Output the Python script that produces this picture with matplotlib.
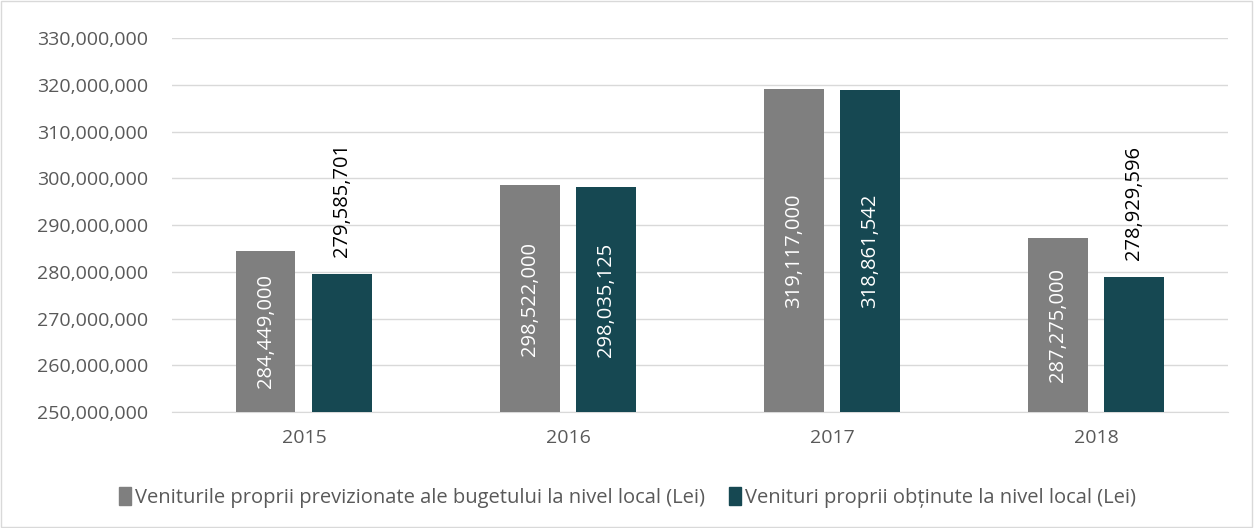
import matplotlib
matplotlib.use("Agg")
import matplotlib.pyplot as plt
import numpy as np
from matplotlib.ticker import FuncFormatter
from matplotlib.patches import Patch

years = ["2015", "2016", "2017", "2018"]
prevazute = [284449000, 298522000, 319117000, 287275000]
obtinute = [279585701, 298035125, 318861542, 278929596]
series_names = ["Veniturile proprii previzionate ale bugetului la nivel local (Lei)",
                "Venituri proprii obținute la nivel local (Lei)"]
colors = ["#7f7f7f", "#164852"]

plt.rcParams['font.family'] = ['Open Sans', 'DejaVu Sans']

fig = plt.figure(figsize=(12.55, 5.28), dpi=100)
ax = fig.add_axes([0.137, 0.2197, 0.8415, 0.7083])

x = np.arange(len(years))
w = 0.224
gap = 0.064
off = (w + gap) / 2
ymin, ymax = 250_000_000, 330_000_000

for vals, dx, col in [(prevazute, -off, colors[0]), (obtinute, off, colors[1])]:
    ax.bar(x + dx, [v - ymin for v in vals], bottom=ymin, width=w, color=col, zorder=3)
    for xi, v in zip(x + dx, vals):
        txt = f"{v:,}"
        if v - ymin > 31_000_000:
            ax.text(xi, (v + ymin) / 2, txt, rotation=90, ha='center', va='center',
                    color='white', fontsize=14.5, zorder=4)
        else:
            ax.text(xi, v + 3_500_000, txt, rotation=90, ha='center', va='bottom',
                    color='black', fontsize=14.5, zorder=4)

ax.set_ylim(ymin, ymax)
ax.set_xlim(-0.5, len(years) - 0.5)
ax.set_yticks(np.arange(ymin, ymax + 1, 10_000_000))
ax.yaxis.set_major_formatter(FuncFormatter(lambda v, p: f"{int(v):,}"))
ax.set_xticks(x)
ax.set_xticklabels(years)
ax.grid(axis='y', color='#d9d9d9', linewidth=1, zorder=0)
for s in ['top', 'right', 'left']:
    ax.spines[s].set_visible(False)
ax.spines['bottom'].set_color('#d9d9d9')
ax.tick_params(axis='both', length=0, colors='#595959', labelsize=14)
ax.tick_params(axis='y', pad=17)
ax.tick_params(axis='x', pad=12)

handles = [Patch(color=c) for c in colors]
fig.legend(handles, series_names, loc='center', bbox_to_anchor=(0.5, 0.058), ncol=2,
           frameon=False, fontsize=14.5, handlelength=0.6, handleheight=1.0,
           handletextpad=0.2, columnspacing=1.2, labelcolor='#595959')

fig.patches.append(plt.Rectangle((0.001, 0.001), 0.997, 0.997, transform=fig.transFigure,
                                 fill=False, edgecolor='#d9d9d9', linewidth=1))
fig.savefig("out.png", dpi=100, facecolor='white')
